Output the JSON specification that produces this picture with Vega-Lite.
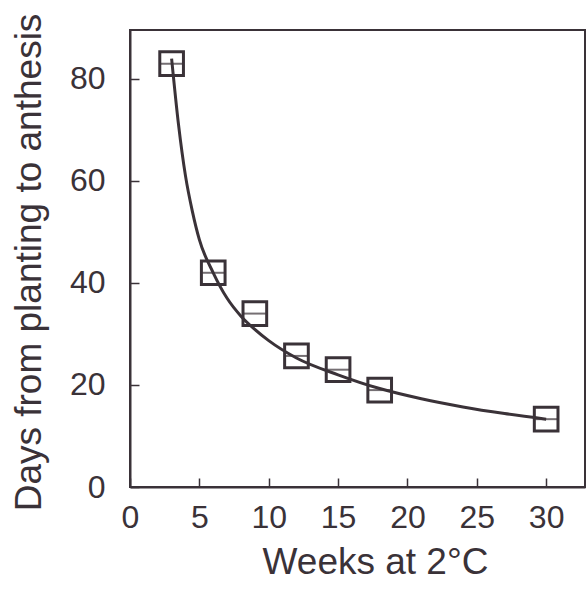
{
  "$schema": "https://vega.github.io/schema/vega-lite/v6.json",
  "width": 455,
  "height": 457,
  "autosize": {"type": "none"},
  "padding": {"left": 130, "top": 30, "right": 1, "bottom": 106},
  "background": "white",
  "config": {
    "font": "Liberation Sans",
    "view": {"stroke": "#3a3238", "strokeWidth": 2},
    "axis": {
      "domainColor": "#3a3238",
      "domainWidth": 2,
      "tickColor": "#3a3238",
      "tickWidth": 1.5,
      "tickSize": -9,
      "grid": false,
      "labelFont": "Liberation Sans",
      "labelFontSize": 32,
      "labelColor": "#3a3238",
      "titleFont": "Liberation Sans",
      "titleFontSize": 37,
      "titleFontWeight": "normal",
      "titleColor": "#3a3238"
    }
  },
  "datasets": {
    "points": [
      {"weeks": 3, "days": 83},
      {"weeks": 6, "days": 42},
      {"weeks": 9, "days": 34},
      {"weeks": 12, "days": 25.7},
      {"weeks": 15, "days": 23},
      {"weeks": 18, "days": 19},
      {"weeks": 30, "days": 13.3}
    ],
    "curve": [
      {"weeks": 3, "days": 84},
      {"weeks": 3.5, "days": 71},
      {"weeks": 4, "days": 61},
      {"weeks": 4.5, "days": 54},
      {"weeks": 5, "days": 48.5},
      {"weeks": 6, "days": 42},
      {"weeks": 7, "days": 37},
      {"weeks": 8, "days": 33.5},
      {"weeks": 9, "days": 30.9},
      {"weeks": 10, "days": 28.7},
      {"weeks": 12, "days": 25.3},
      {"weeks": 15, "days": 22},
      {"weeks": 18, "days": 19.3},
      {"weeks": 21, "days": 17.3},
      {"weeks": 24, "days": 15.7},
      {"weeks": 27, "days": 14.4},
      {"weeks": 30, "days": 13.3}
    ]
  },
  "layer": [
    {
      "data": {"name": "curve"},
      "mark": {"type": "line", "interpolate": "monotone", "color": "#3a3238", "strokeWidth": 3},
      "encoding": {
        "x": {
          "field": "weeks", "type": "quantitative",
          "scale": {"domain": [0, 32.8], "nice": false},
          "axis": {"values": [0, 5, 10, 15, 20, 25, 30], "title": "Weeks at 2°C", "labelPadding": 24, "titleX": 245, "titleY": 57, "labelFlush": false}
        },
        "y": {
          "field": "days", "type": "quantitative",
          "scale": {"domain": [0, 89.6], "nice": false},
          "axis": {"values": [0, 20, 40, 60, 80], "title": "Days from planting to anthesis", "labelPadding": 34, "titleX": -82, "titleY": 232, "labelFlush": false}
        }
      }
    },
    {
      "data": {"name": "points"},
      "mark": {"type": "tick", "orient": "horizontal", "color": "#3a3238", "size": 22, "thickness": 2},
      "encoding": {
        "x": {"field": "weeks", "type": "quantitative"},
        "y": {"field": "days", "type": "quantitative"}
      }
    },
    {
      "data": {"name": "points"},
      "mark": {"type": "point", "shape": "square", "filled": false, "size": 560, "stroke": "#3a3238", "strokeWidth": 3, "opacity": 1},
      "encoding": {
        "x": {"field": "weeks", "type": "quantitative"},
        "y": {"field": "days", "type": "quantitative"}
      }
    }
  ]
}
